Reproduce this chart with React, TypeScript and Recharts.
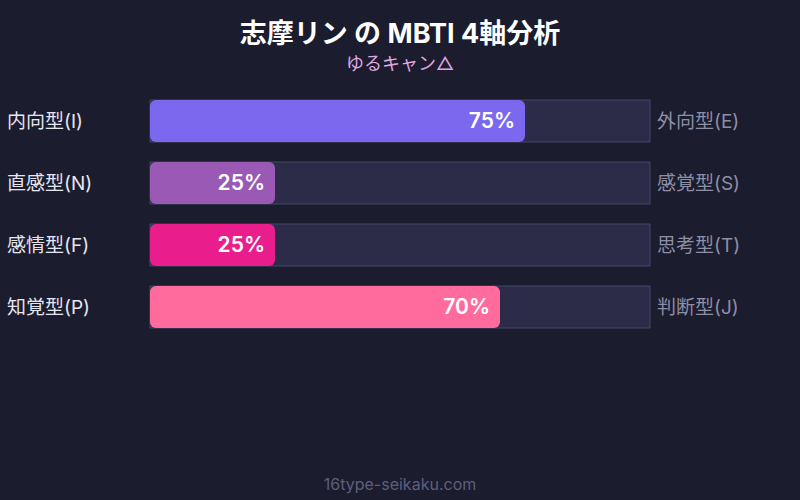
import React from "react";
import { BarChart, Bar, XAxis, YAxis, LabelList, Cell } from "recharts";

const leftLabels = ["内向型(I)", "直感型(N)", "感情型(F)", "知覚型(P)"];
const rightLabels = ["外向型(E)", "感覚型(S)", "思考型(T)", "判断型(J)"];
const values = [75, 25, 25, 70];
const colors = ["#7B68EE", "#9B59B6", "#E91E8C", "#FF6B9D"];

const title = "志摩リン の MBTI 4軸分析";
const subtitle = "ゆるキャン△";
const footer = "16type-seikaku.com";

const data = leftLabels.map((l, i) => ({ left: l, right: rightLabels[i], value: values[i] }));

const FONT = "Inter, 'Noto Sans CJK JP', sans-serif";

const LeftTick = (props: any) => {
  const { y, payload } = props;
  return (
    <text x={7} y={y} dy={7} textAnchor="start" fill="#E6E6F0" fontSize={19} fontFamily={FONT}>
      {payload.value}
    </text>
  );
};

const RightTick = (props: any) => {
  const { x, y, payload } = props;
  return (
    <text x={x + 1} y={y} dy={7} textAnchor="start" fill="#8E8EA6" fontSize={19} fontFamily={FONT}>
      {payload.value}
    </text>
  );
};

export default function App() {
  return (
    <div style={{ position: "absolute", left: 0, top: 0, width: 800, height: 500, background: "#1B1C2E", fontFamily: FONT }}>
      <svg width={800} height={500} style={{ position: "absolute", left: 0, top: 0 }}>
        <text x={400} y={43} textAnchor="middle" fill="#FFFFFF" fontSize={27} fontWeight="bold" fontFamily={FONT}>
          {title}
        </text>
        <text x={400} y={70} textAnchor="middle" fill="#E0A8E0" fontSize={18} fontFamily={FONT}>
          {subtitle}
        </text>
        <text x={400} y={490} textAnchor="middle" fill="#5E5F7E" fontSize={16} fontFamily={FONT}>
          {footer}
        </text>
      </svg>
      <div style={{ position: "absolute", left: 0, top: 0 }}>
        <BarChart
          width={800}
          height={500}
          data={data}
          layout="vertical"
          margin={{ top: 90, right: 0, left: 0, bottom: 162 }}
        >
          <XAxis type="number" domain={[0, 100]} hide />
          <YAxis
            yAxisId="left"
            type="category"
            dataKey="left"
            width={150}
            axisLine={false}
            tickLine={false}
            tick={<LeftTick />}
          />
          <YAxis
            yAxisId="right"
            orientation="right"
            type="category"
            dataKey="right"
            width={150}
            axisLine={false}
            tickLine={false}
            tickMargin={0}
            tick={<RightTick />}
          />
          <Bar
            yAxisId="left"
            dataKey="value"
            barSize={42}
            radius={6}
            isAnimationActive={false}
            background={{ fill: "#2D2C48", stroke: "#45466A", strokeWidth: 1 }}
          >
            {data.map((d, i) => (
              <Cell key={i} fill={colors[i]} />
            ))}
            <LabelList
              dataKey="value"
              position="insideRight"
              offset={10}
              formatter={(v: any) => `${v}%`}
              fill="#FFFFFF"
              fontSize={21}
              fontWeight={600}
              fontFamily={FONT}
            />
          </Bar>
        </BarChart>
      </div>
    </div>
  );
}
